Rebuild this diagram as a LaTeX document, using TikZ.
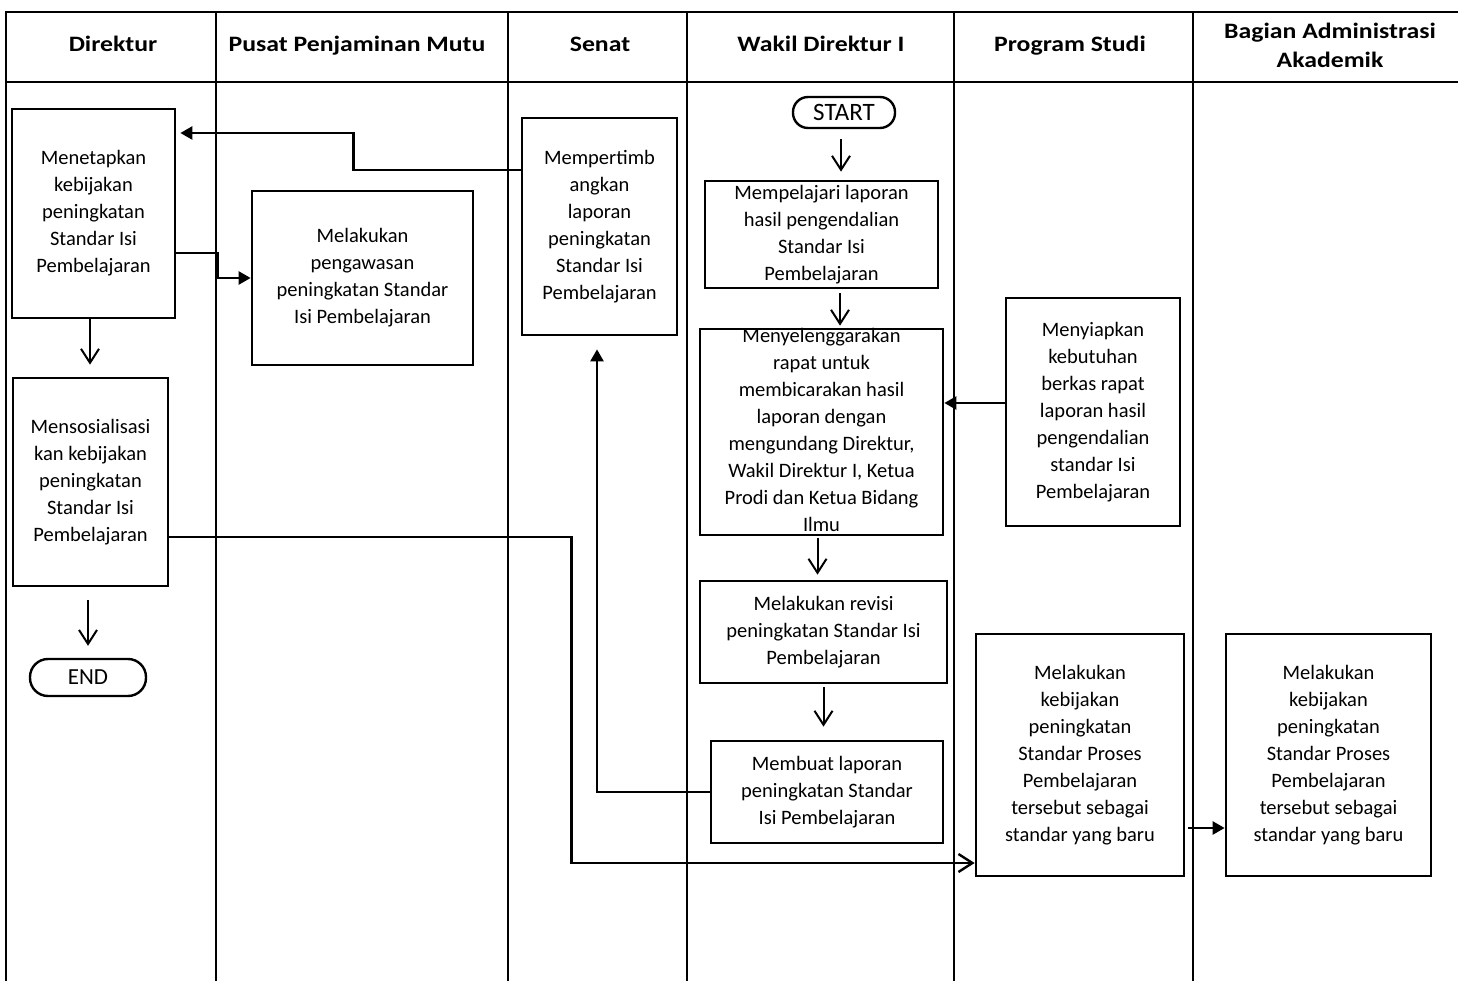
\documentclass[tikz,border=0pt]{standalone}
\usepackage{fontspec}
\setmainfont{Carlito}
\usetikzlibrary{arrows.meta}
\newcommand{\bx}[1]{\smash{\raisebox{-5pt}{\begin{tabular}{@{}c@{}}#1\end{tabular}}}}
\newcommand{\hd}[1]{\scalebox{1.17}[1]{\begin{tabular}{@{}c@{}}#1\end{tabular}}}
\tikzset{
  frame/.style={line width=2pt},
  box/.style={draw, line width=2.7pt, inner sep=0pt, font=\fontsize{20.5}{27}\selectfont},
  term/.style={draw, line width=2.4pt, inner sep=0pt, font=\fontsize{23}{27}\selectfont},
  hdr/.style={inner sep=0pt, font=\bfseries\fontsize{22}{29}\selectfont},
  openarr/.style={line width=2pt, -{Straight Barb[length=14pt,width=18pt]}},
  fillarr/.style={line width=2.4pt, -{Triangle[length=12pt,width=13pt]}}
}
\begin{document}
\begin{tikzpicture}[x=1pt,y=-1pt]
\useasboundingbox (0,0) rectangle (1458,981);
% frame
\draw[frame] (6,981) -- (6,12) -- (1458,12);
\draw[frame] (6,82) -- (1458,82);
\foreach \x in {216,508,687,954,1193} \draw[frame] (\x,12) -- (\x,981);
% headers
\node[hdr] (h1) at (113,46) {\hd{Direktur}};
\node[hdr] (h2) at (357,46) {\hd{Pusat Penjaminan Mutu}};
\node[hdr] (h3) at (600,46) {\hd{Senat}};
\node[hdr] (h4) at (821,46) {\hd{Wakil Direktur I}};
\node[hdr] (h5) at (1070,46) {\hd{Program Studi}};
\node[hdr] (h6) at (1330,47) {\hd{Bagian Administrasi\\Akademik}};
% Direktur
\node[box, minimum width=163pt, minimum height=209pt] (A) at (93.5,213.5) {\bx{Menetapkan\\kebijakan\\peningkatan\\Standar Isi\\Pembelajaran}};
\node[box, minimum width=155pt, minimum height=208pt] (B) at (90.5,482) {\bx{Mensosialisasi\\kan kebijakan\\peningkatan\\Standar Isi\\Pembelajaran}};
\node[term, minimum width=116pt, minimum height=37pt, rounded corners=18pt] (end) at (88,677.5) {END};
% PPM
\node[box, minimum width=221pt, minimum height=174pt] (C) at (362.5,278) {\bx{Melakukan\\pengawasan\\peningkatan Standar\\Isi Pembelajaran}};
% Senat
\node[box, minimum width=155pt, minimum height=217pt] (D) at (599.5,226.5) {\bx{Mempertimb\\angkan\\laporan\\peningkatan\\Standar Isi\\Pembelajaran}};
% Wakil Direktur I
\node[term, minimum width=102pt, minimum height=31pt, rounded corners=15pt, font=\fontsize{25}{27}\selectfont] (start) at (844,112.5) {START};
\node[box, minimum width=233pt, minimum height=107pt] (E) at (821.5,234.5) {\bx{Mempelajari laporan\\hasil pengendalian\\Standar Isi\\Pembelajaran}};
\node[box, minimum width=243pt, minimum height=206pt] (F) at (821.5,432) {\bx{Menyelenggarakan\\rapat untuk\\membicarakan hasil\\laporan dengan\\mengundang Direktur,\\Wakil Direktur I, Ketua\\Prodi dan Ketua Bidang\\Ilmu}};
\node[box, minimum width=247pt, minimum height=102pt] (R) at (823.5,632) {\bx{Melakukan revisi\\peningkatan Standar Isi\\Pembelajaran}};
\node[box, minimum width=232pt, minimum height=102pt] (H) at (827,792) {\bx{Membuat laporan\\peningkatan Standar\\Isi Pembelajaran}};
% Program Studi
\node[box, minimum width=174pt, minimum height=228pt] (G) at (1093,412) {\bx{Menyiapkan\\kebutuhan\\berkas rapat\\laporan hasil\\pengendalian\\standar Isi\\Pembelajaran}};
\node[box, minimum width=208pt, minimum height=242pt] (I) at (1080,755) {\bx{Melakukan\\kebijakan\\peningkatan\\Standar Proses\\Pembelajaran\\tersebut sebagai\\standar yang baru}};
% BAA
\node[box, minimum width=205pt, minimum height=242pt] (J) at (1328.5,755) {\bx{Melakukan\\kebijakan\\peningkatan\\Standar Proses\\Pembelajaran\\tersebut sebagai\\standar yang baru}};
% connectors
\draw[openarr, shorten <=10pt, shorten >=8pt] ([xshift=-3pt]start.south) -- ([xshift=-3pt]start.south |- E.north);
\draw[openarr, shorten <=4pt, shorten >=2pt] ([xshift=18.5pt]E.south) -- ([xshift=18.5pt]E.south |- F.north);
\draw[openarr, shorten <=2pt, shorten >=5pt] ([xshift=-4pt]F.south) -- ([xshift=-4pt]F.south |- R.north);
\draw[openarr, shorten <=3pt, shorten >=13pt] (R.south) -- (R.south |- H.north);
\draw[openarr, shorten >=12pt] ([xshift=-3.5pt]A.south) -- ([xshift=-3.5pt]A.south |- B.north);
\draw[openarr, shorten <=13pt, shorten >=12pt] (end.north |- B.south) -- (end.north);
\draw[fillarr] ([yshift=-39.5pt]A.east) -- ++(41,0) |- (C.west);
\draw[fillarr, shorten >=4pt] ([yshift=56.5pt]D.west) -| ([xshift=177pt,yshift=80.5pt]A.east) -- ([yshift=80.5pt]A.east);
\draw[fillarr, shorten >=13pt] (H.west) -| ([xshift=-2.5pt]D.south);
\draw[fillarr] ([yshift=9pt]G.west) -- ([yshift=9pt]G.west -| F.east);
\draw[openarr, line width=2.4pt] ([yshift=-55pt]B.east) -- ++(402,0) |- ([yshift=-108pt]I.west);
\draw[fillarr, shorten <=3pt] ([yshift=-73pt]I.east) -- ([yshift=-73pt]I.east -| J.west);
\end{tikzpicture}
\end{document}
